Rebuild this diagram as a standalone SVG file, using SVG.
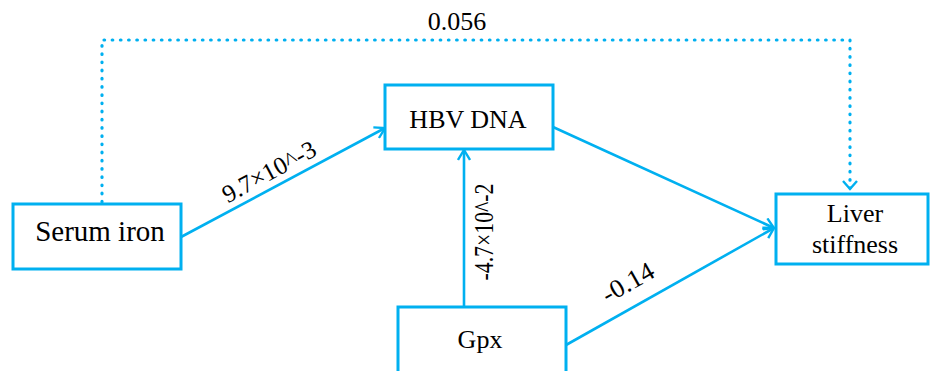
<svg xmlns="http://www.w3.org/2000/svg" width="930" height="371" viewBox="0 0 930 371">
<style>
.box{fill:#fff;stroke:#00B0F0;stroke-width:3}
.ln{fill:none;stroke:#00B0F0;stroke-width:2.6}
.dot{fill:none;stroke:#00B0F0;stroke-width:3.2;stroke-linecap:round;stroke-dasharray:0.6 7.6}
.t{font-family:'Liberation Serif','DejaVu Serif','Times New Roman',serif;fill:#000}
.lbl{font-size:26px;text-anchor:middle}
</style>
<defs>
<marker id="ah" viewBox="0 0 12 14" refX="11" refY="7" markerWidth="12" markerHeight="14" markerUnits="userSpaceOnUse" orient="auto">
<path d="M1,1 L11,7 L1,13" fill="none" stroke="#00B0F0" stroke-width="2.4"/>
</marker>
</defs>
<rect width="930" height="371" fill="#fff"/>
<g id="connectors">
<path class="dot" d="M102,202 V40 H850 V188"/>
<path d="M843,181 L850,189 L857,181" fill="none" stroke="#00B0F0" stroke-width="2.4"/>
<line class="ln" x1="181" y1="237" x2="385" y2="128" marker-end="url(#ah)"/>
<line class="ln" x1="464" y1="307" x2="464" y2="150" marker-end="url(#ah)"/>
<line class="ln" x1="553" y1="127" x2="774" y2="228" marker-end="url(#ah)"/>
<line class="ln" x1="566" y1="345" x2="774" y2="228" marker-end="url(#ah)"/>
<text class="t" font-family="Liberation Serif, DejaVu Serif, serif" font-size="26" text-anchor="middle" x="457" y="30">0.056</text>
<text class="t" font-family="Liberation Serif, DejaVu Serif, serif" font-size="25" text-anchor="middle" textLength="103" lengthAdjust="spacingAndGlyphs" transform="translate(273,179) rotate(-28.3)">9.7×10^-3</text>
<text class="t" font-family="Liberation Serif, DejaVu Serif, serif" font-size="28" text-anchor="middle" textLength="97" lengthAdjust="spacingAndGlyphs" transform="translate(493,232) rotate(-90)">-4.7×10^-2</text>
<text class="t" font-family="Liberation Serif, DejaVu Serif, serif" font-size="26" text-anchor="middle" textLength="56" lengthAdjust="spacingAndGlyphs" transform="translate(632,290) rotate(-29.5)">-0.14</text>
</g>
<g id="serum-iron">
<rect class="box" x="13" y="204" width="168" height="65"/>
<text class="t lbl" font-family="Liberation Serif, DejaVu Serif, serif" x="100" y="241" style="font-size:29px">Serum iron</text>
</g>
<g id="hbv-dna">
<rect class="box" x="385" y="85" width="168" height="64"/>
<text class="t lbl" font-family="Liberation Serif, DejaVu Serif, serif" x="468" y="128">HBV DNA</text>
</g>
<g id="liver-stiffness">
<rect class="box" x="776" y="194" width="152" height="70"/>
<text class="t lbl" font-family="Liberation Serif, DejaVu Serif, serif" x="855" y="222">Liver</text>
<text class="t lbl" font-family="Liberation Serif, DejaVu Serif, serif" x="855" y="253">stiffness</text>
</g>
<g id="gpx">
<rect class="box" x="398" y="307" width="168" height="80"/>
<text class="t lbl" font-family="Liberation Serif, DejaVu Serif, serif" x="480" y="348">Gpx</text>
</g>
</svg>
